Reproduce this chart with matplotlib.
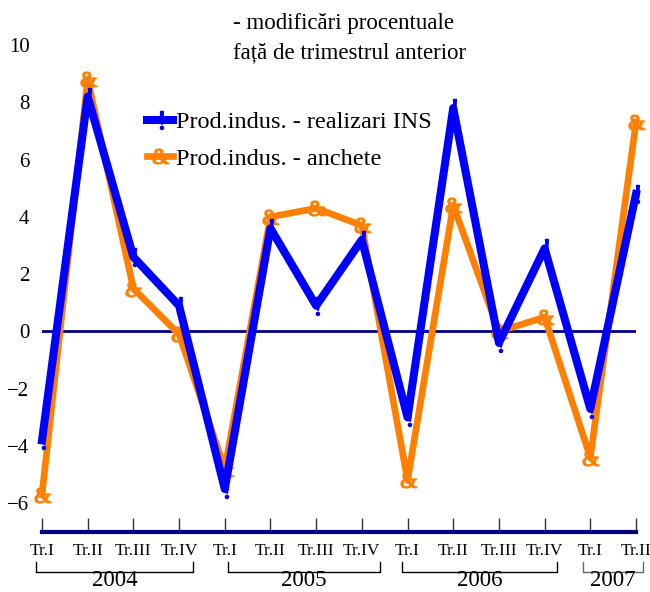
import matplotlib
matplotlib.use("Agg")
import matplotlib.pyplot as plt
import matplotlib.transforms as mtransforms
from matplotlib.textpath import TextPath
from matplotlib.font_manager import FontProperties
from matplotlib.path import Path

plt.rcParams['font.family'] = ['Liberation Serif', 'DejaVu Serif']

# date
trimestre = ['Tr.I', 'Tr.II', 'Tr.III', 'Tr.IV',
             'Tr.I', 'Tr.II', 'Tr.III', 'Tr.IV',
             'Tr.I', 'Tr.II', 'Tr.III', 'Tr.IV',
             'Tr.I', 'Tr.II']
ani = ['2004', '2005', '2006', '2007']
realizari_ins = [-3.8, 8.2, 2.6, 0.9, -5.5, 3.6, 0.9, 3.2, -3.0, 7.8, -0.4, 2.9, -2.7, 4.8]
anchete = [-5.7, 8.8, 1.5, -0.1, -4.8, 4.0, 4.3, 3.7, -5.2, 4.4, 0.0, 0.5, -4.4, 7.3]

NAVY = '#000080'
BLUE = '#0000FF'
ORANGE = '#FF8000'

W, H = 650, 592
fig = plt.figure(figsize=(W / 100, H / 100), dpi=100)


def fx(px):
    return px / W


def fy(py):
    return 1 - py / H


def glyph_marker(ch):
    # marker din caracter (Times-like), centrat
    tp = TextPath((0, 0), ch, size=10, prop=FontProperties(family='Liberation Serif'))
    v = tp.vertices.copy()
    v[:, 0] -= (v[:, 0].min() + v[:, 0].max()) / 2
    v[:, 1] -= (v[:, 1].min() + v[:, 1].max()) / 2
    return Path(v, tp.codes)


# axa: x=42..636 px, y(-7)=532 px, y(10)=45 px
ax = fig.add_axes([fx(42), fy(532), fx(636) - fx(42), fy(45) - fy(532)])
x = list(range(len(trimestre)))

ax.axhline(0, color=NAVY, lw=2, zorder=1)
ax.plot(x, anchete, color=ORANGE, lw=4.8, marker=glyph_marker('&'), markersize=12,
        solid_joinstyle='round', clip_on=False, zorder=2,
        label='Prod.indus. - anchete')
ax.plot(x, realizari_ins, color=BLUE, lw=5.8, marker=glyph_marker('!'), markersize=13,
        solid_joinstyle='round', clip_on=False, zorder=3,
        label='Prod.indus. - realizari INS')

ax.set_xlim(0, 13)
ax.set_ylim(-7, 10)
ax.set_yticks(range(-6, 11, 2))
ax.set_xticks(x)
ax.set_xticklabels(trimestre, fontsize=12.5)
ax.tick_params(axis='y', length=0, pad=9, labelsize=15)
ax.tick_params(axis='x', direction='in', length=10, width=1, color='#333333', pad=8)

for s in ['top', 'right', 'left']:
    ax.spines[s].set_visible(False)
ax.spines['bottom'].set_color(NAVY)
ax.spines['bottom'].set_linewidth(3)

# legenda
handles, labels = ax.get_legend_handles_labels()
leg = fig.legend(handles[::-1], labels[::-1], loc='upper left',
                 bbox_to_anchor=(fx(147), fy(111)), frameon=False,
                 fontsize=17.5, handlelength=1.05, handletextpad=0.15,
                 labelspacing=0.6, borderpad=0, borderaxespad=0)

# titlu
fig.text(fx(233), fy(24), '- modificări procentuale', fontsize=16.5, va='center', ha='left')
fig.text(fx(233), fy(53), 'față de trimestrul anterior', fontsize=16.5, va='center', ha='left')

# acolade ani
trans = mtransforms.blended_transform_factory(ax.transData, fig.transFigure)
spans = [(-0.13, 3.3), (4.07, 7.4), (7.88, 11.27), (11.84, 13.15)]
culori = ['black', 'black', 'black', '#666666']
for an, (a, b), c in zip(ani, spans, culori):
    ax.plot([a, a, b, b], [fy(562), fy(572), fy(572), fy(562)], color=c, lw=1,
            transform=trans, clip_on=False)
    ax.text((a + b) / 2, fy(591), an, transform=trans, ha='center', va='bottom',
            fontsize=16.5)

fig.savefig('out.png', dpi=100)
